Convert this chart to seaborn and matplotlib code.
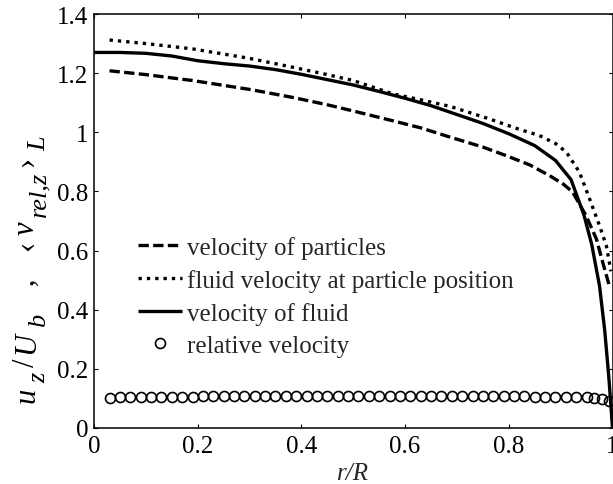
import matplotlib
matplotlib.use("Agg")
import matplotlib.pyplot as plt
import matplotlib.transforms as mtransforms
import seaborn as sns

# Radial profiles of mean axial velocity (normalised by bulk velocity)
r_fluid = [0.0, 0.05, 0.10, 0.15, 0.20, 0.25, 0.30, 0.35, 0.40, 0.45, 0.50,
           0.55, 0.60, 0.65, 0.70, 0.75, 0.80, 0.85, 0.89, 0.92, 0.945, 0.96,
           0.975, 0.985, 0.993, 1.0]
u_fluid = [1.270, 1.270, 1.267, 1.258, 1.242, 1.232, 1.224, 1.212, 1.196, 1.178,
           1.160, 1.138, 1.115, 1.090, 1.060, 1.030, 0.995, 0.955, 0.905, 0.840,
           0.720, 0.620, 0.480, 0.330, 0.170, 0.0]

r_seen = [0.03, 0.10, 0.19, 0.30, 0.383, 0.45, 0.50, 0.576, 0.63, 0.688, 0.763,
          0.82, 0.859, 0.89, 0.911, 0.936, 0.956, 0.975, 0.988, 0.997]
u_seen = [1.312, 1.300, 1.282, 1.250, 1.220, 1.195, 1.175, 1.130, 1.110, 1.087,
          1.045, 1.010, 0.989, 0.962, 0.933, 0.866, 0.774, 0.684, 0.617, 0.530]

r_part = [0.03, 0.10, 0.19, 0.30, 0.383, 0.45, 0.50, 0.576, 0.63, 0.688, 0.75,
          0.795, 0.84, 0.879, 0.905, 0.923, 0.949, 0.969, 0.981, 0.994]
u_part = [1.208, 1.195, 1.175, 1.145, 1.118, 1.093, 1.072, 1.039, 1.015, 0.983,
          0.950, 0.921, 0.890, 0.853, 0.825, 0.798, 0.718, 0.639, 0.561, 0.480]

r_rel = [0.03, 0.05, 0.07, 0.09, 0.11, 0.13, 0.15, 0.17, 0.19, 0.21, 0.23, 0.25,
         0.27, 0.29, 0.31, 0.33, 0.35, 0.37, 0.39, 0.41, 0.43, 0.45, 0.47, 0.49,
         0.51, 0.53, 0.55, 0.57, 0.59, 0.61, 0.63, 0.65, 0.67, 0.69, 0.71, 0.73,
         0.75, 0.77, 0.79, 0.81, 0.83, 0.85, 0.87, 0.89, 0.91, 0.93, 0.95, 0.965,
         0.98, 0.994]
u_rel = [0.102, 0.104, 0.105, 0.105, 0.105, 0.106, 0.106, 0.106, 0.106, 0.107,
         0.107, 0.108, 0.108, 0.108, 0.108, 0.108, 0.108, 0.108, 0.108, 0.108,
         0.108, 0.108, 0.108, 0.108, 0.108, 0.108, 0.108, 0.108, 0.108, 0.108,
         0.108, 0.108, 0.108, 0.108, 0.108, 0.108, 0.107, 0.107, 0.107, 0.107,
         0.107, 0.106, 0.106, 0.106, 0.105, 0.105, 0.104, 0.102, 0.098, 0.090]

labels = ["velocity of particles", "fluid velocity at particle position",
          "velocity of fluid", "relative velocity"]
x_ticks = [0, 0.2, 0.4, 0.6, 0.8, 1]
x_ticklabels = ["0", "0.2", "0.4", "0.6", "0.8", "1"]
y_ticks = [0, 0.2, 0.4, 0.6, 0.8, 1, 1.2, 1.4]
y_ticklabels = ["0", "0.2", "0.4", "0.6", "0.8", "1", "1.2", "1.4"]

# y-axis label pieces: (text, is_subscript, italic)
ylabel_pieces = [("u", False, True), ("z", True, True), ("/", False, False),
                 ("U", False, True), ("b", True, True), ("   ,   ", False, False),
                 ("\u2039", False, False), ("v", False, True),
                 ("rel,z", True, True), ("\u203a", False, False),
                 ("L", True, True)]

sns.set_style("ticks")
plt.rcParams["font.family"] = ["Liberation Serif", "DejaVu Serif"]
plt.rcParams["mathtext.fontset"] = "stix"

fig = plt.figure(figsize=(6.13, 4.85), dpi=100)
W, H = 613.0, 485.0
left, right, top, bottom = 94.0, 612.5, 15.0, 429.0
ax = fig.add_axes([left / W, 1 - bottom / H, (right - left) / W, (bottom - top) / H])

lw = 2.4
sns.lineplot(x=r_part, y=u_part, ax=ax, color="black", lw=lw, sort=False,
             estimator=None, linestyle=(0, (3.1, 1.3)), label=labels[0])
sns.lineplot(x=r_seen, y=u_seen, ax=ax, color="black", lw=lw, sort=False,
             estimator=None, linestyle=(0, (1.0, 1.5)), label=labels[1])
sns.lineplot(x=r_fluid, y=u_fluid, ax=ax, color="black", lw=lw, sort=False,
             estimator=None, linestyle="-", label=labels[2])
sns.lineplot(x=r_rel, y=u_rel, ax=ax, color="black", sort=False, estimator=None,
             linestyle="", marker="o", markersize=7.2, markerfacecolor="none",
             markeredgecolor="black", markeredgewidth=1.2, label=labels[3])

for ln in ax.lines[:3]:
    ln.set_dash_capstyle("butt")
    ln.set_solid_capstyle("butt")

ax.set_xlim(0, 1)
ax.set_ylim(0, 1.4)
ax.set_xticks(x_ticks)
ax.set_xticklabels(x_ticklabels)
ax.set_yticks(y_ticks)
ax.set_yticklabels(y_ticklabels)
ax.tick_params(direction="in", length=3, width=0.8, top=True, right=True,
               labelsize=18, pad=4, color="black", labelcolor="black")
ax.tick_params(axis="x", pad=5)
for sp in ax.spines.values():
    sp.set_visible(True)
    sp.set_linewidth(1.1)
    sp.set_color("black")

ax.set_xlabel("r/R", fontsize=18, fontstyle="italic", labelpad=3.5)
ax.set_ylabel("")

# Rotated y label laid out piece by piece so subscripts keep a large size
pix = mtransforms.IdentityTransform()
renderer = fig.canvas.get_renderer()
base_size, sub_size = 22, 19
base_x, sub_x = 34, 45          # baseline positions (pixels from left)
y_cur = H - 403                 # start of label (pixels from bottom)
gap = 5
for text, is_sub, italic in ylabel_pieces:
    t = fig.text(sub_x if is_sub else base_x, y_cur, text, transform=pix,
                 rotation=90, rotation_mode="anchor", ha="left", va="baseline",
                 fontsize=sub_size if is_sub else base_size,
                 fontstyle="italic" if italic else "normal", color="black")
    ext = t.get_window_extent(renderer)
    y_cur += ext.height + gap

leg = ax.legend(loc="center left", bbox_to_anchor=(0.085, 0.318), frameon=False,
                fontsize=18, borderpad=0, borderaxespad=0, handlelength=1.76,
                handletextpad=0.2, labelspacing=0.4)

fig.savefig("out.png", dpi=100)
